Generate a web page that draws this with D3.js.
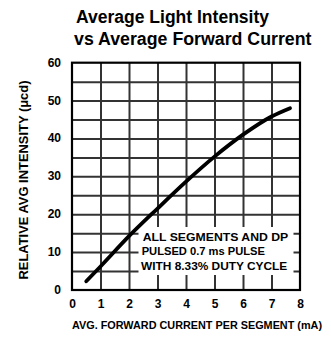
<!DOCTYPE html>
<html>
<head>
<meta charset="utf-8">
<script src="https://cdn.jsdelivr.net/npm/d3@7"></script>
<style>
  html, body { margin: 0; padding: 0; background: #fff; }
  svg text { font-family: "Liberation Sans Narrow", "Liberation Sans", Arial, sans-serif; font-weight: bold; fill: #000; }
</style>
</head>
<body>
<svg id="chart" width="331" height="337"></svg>
<script>
// Average light intensity (μcd) against average forward current per segment (mA)
const current   = [0.5, 1, 2, 3, 4, 5, 6, 7, 7.65];
const intensity = [2.3, 6.2, 14.2, 21.5, 28.6, 35.2, 41.0, 45.8, 48.0];

const xTicks = [0, 1, 2, 3, 4, 5, 6, 7, 8];
const yTicks = [0, 10, 20, 30, 40, 50, 60];
const yGrid  = [5, 10, 15, 20, 25, 30, 35, 40, 45, 50, 55];

const titleLines = ["Average Light Intensity", "vs Average Forward Current"];
const noteLines  = ["ALL SEGMENTS AND DP", "PULSED 0.7 ms PULSE", "WITH 8.33% DUTY CYCLE"];
const xTitle = "AVG. FORWARD CURRENT PER SEGMENT (mA)";
const yTitle = "RELATIVE AVG INTENSITY (μcd)";

const svg = d3.select("#chart");
const plot = { left: 72, right: 300, top: 62.7, bottom: 290 };

const x = d3.scaleLinear().domain([0, 8]).range([plot.left, plot.right]);
const y = d3.scaleLinear().domain([0, 60]).range([plot.bottom, plot.top]);

// Title
const titleSpec = [
  { x: 76, y: 22.7, w: 193 },
  { x: 74, y: 45.3, w: 237.5 }
];
svg.selectAll("text.title").data(titleLines).join("text")
  .attr("class", "title")
  .attr("x", (d, i) => titleSpec[i].x)
  .attr("y", (d, i) => titleSpec[i].y)
  .attr("font-size", 17.5)
  .style("font-family", "'Liberation Sans', Arial, sans-serif")
  .attr("textLength", (d, i) => titleSpec[i].w)
  .attr("lengthAdjust", "spacingAndGlyphs")
  .text(d => d);

// Grid
const gridG = svg.append("g").attr("class", "gridlines");
gridG.call(d3.axisBottom(x).tickValues(xTicks.slice(1, -1)).tickSize(-(plot.bottom - plot.top)).tickFormat(""))
  .attr("transform", `translate(0,${plot.bottom})`);
const gridH = svg.append("g").attr("class", "gridlines");
gridH.call(d3.axisLeft(y).tickValues(yGrid).tickSize(-(plot.right - plot.left)).tickFormat(""))
  .attr("transform", `translate(${plot.left},0)`);
svg.selectAll(".gridlines .domain").remove();
svg.selectAll(".gridlines .tick line")
  .attr("stroke", "#333")
  .attr("stroke-width", 2);

// Blank panel behind the note
svg.append("rect")
  .attr("x", 138.5).attr("y", 227)
  .attr("width", 155).attr("height", 48)
  .attr("fill", "#fff");

// Frame
svg.append("rect")
  .attr("x", plot.left).attr("y", plot.top)
  .attr("width", plot.right - plot.left).attr("height", plot.bottom - plot.top)
  .attr("fill", "none").attr("stroke", "#000").attr("stroke-width", 2.2);

// Note text
const noteSpec = [
  { x: 142.7, y: 240.7, w: 145.6 },
  { x: 141.7, y: 255.2, w: 123.3 },
  { x: 141.0, y: 269.8, w: 146.3 }
];
svg.selectAll("text.note").data(noteLines).join("text")
  .attr("class", "note")
  .attr("x", (d, i) => noteSpec[i].x)
  .attr("y", (d, i) => noteSpec[i].y)
  .attr("font-size", 11.5)
  .attr("textLength", (d, i) => noteSpec[i].w)
  .attr("lengthAdjust", "spacingAndGlyphs")
  .text(d => d);

// Curve
const line = d3.line()
  .x((d, i) => x(current[i]))
  .y(d => y(d))
  .curve(d3.curveMonotoneX);
svg.append("path")
  .datum(intensity)
  .attr("d", line)
  .attr("fill", "none")
  .attr("stroke", "#000")
  .attr("stroke-width", 3.8)
  .attr("stroke-linecap", "round");

// Axis tick labels
svg.selectAll("text.xt").data(xTicks).join("text")
  .attr("class", "xt")
  .attr("x", d => x(d) + 0.5)
  .attr("y", 308)
  .attr("text-anchor", "middle")
  .attr("font-size", 12)
  .text(d => d);

svg.selectAll("text.yt").data(yTicks).join("text")
  .attr("class", "yt")
  .attr("x", 61)
  .attr("y", d => y(d) + 4)
  .attr("text-anchor", "end")
  .attr("font-size", 12)
  .text(d => d);

// Axis titles
svg.append("text")
  .attr("class", "xtitle")
  .attr("x", 72).attr("y", 329)
  .attr("font-size", 11.5)
  .attr("textLength", 250)
  .attr("lengthAdjust", "spacingAndGlyphs")
  .text(xTitle);

svg.append("text")
  .attr("class", "ytitle")
  .attr("transform", "translate(28,180) rotate(-90)")
  .attr("text-anchor", "middle")
  .attr("font-size", 12)
  .attr("textLength", 199)
  .attr("lengthAdjust", "spacingAndGlyphs")
  .text(yTitle);
</script>
</body>
</html>
